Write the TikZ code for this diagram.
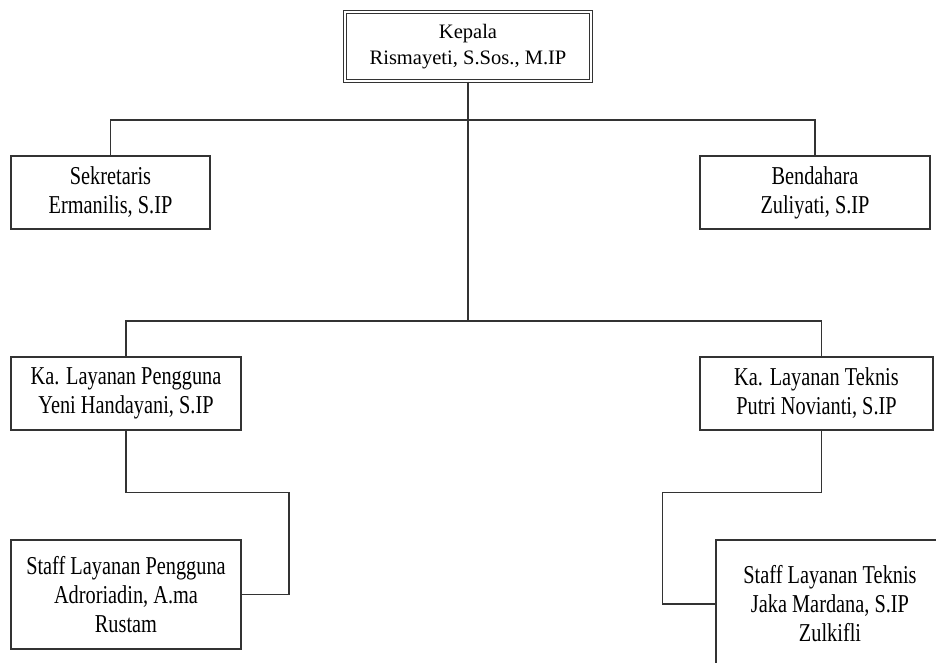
\documentclass[tikz,border=0pt]{standalone}
\usepackage{fontspec}
\setmainfont{Liberation Serif}
\newfontfamily\sempit{Liberation Serif}[FakeStretch=0.79]
\tikzset{
  jabatan/.style={draw=black!80, line width=0.8pt, fill=white, align=center, inner sep=0pt,
    font=\sempit\fontsize{19.3}{21.75}\selectfont, minimum height=54.75pt},
  garis/.style={draw=black!80, line width=0.8pt}
}
\begin{document}
\begin{tikzpicture}[x=0.75pt,y=-0.75pt]
\useasboundingbox (0,0) rectangle (936,663);
\clip (0,0) rectangle (936,663);
% struktur organisasi
\node[jabatan, double, line width=0.6pt, double distance=1.5pt, minimum width=184.8pt, minimum height=52pt,
  font=\rmfamily\fontsize{15.4}{19.5}\selectfont] (kepala) at (468,46.5) {Kepala\\Rismayeti, S.Sos., M.IP};
\node[jabatan, minimum width=149.25pt] (sekretaris) at (110.5,192.5) {Sekretaris\\Ermanilis, S.IP};
\node[jabatan, minimum width=172.5pt] (bendahara) at (815,192.5) {Bendahara\\Zuliyati, S.IP};
\node[jabatan, minimum width=172.5pt] (kapengguna) at (126,393.5) {Ka. Layanan Pengguna\\Yeni Handayani, S.IP};
\node[jabatan, minimum width=174.75pt] (kateknis) at (816.5,393.5) {Ka. Layanan Teknis\\Putri Novianti, S.IP};
\node[jabatan, minimum width=172.5pt, minimum height=81.75pt] (stpengguna) at (126,594.5) {Staff Layanan Pengguna\\Adroriadin, A.ma\\Rustam};
\node[jabatan, minimum width=171pt, minimum height=96pt] (stteknis) at (830,604) {Staff Layanan Teknis\\Jaka Mardana, S.IP\\Zulkifli};
\coordinate (cabang1) at (468,120);
\coordinate (cabang2) at (468,321);
\draw[garis, line width=1.2pt] (kepala) -- (cabang1);
\draw[garis] (cabang1) -- (cabang2);
\draw[garis] (sekretaris.north) |- (cabang1) -| (bendahara.north);
\draw[garis] (kapengguna.north) |- (cabang2) -| ([xshift=4pt]kateknis.north);
\draw[garis] (kapengguna.south) |- ++(163,62) |- (stpengguna.east);
\draw[garis] ([xshift=4pt]kateknis.south) |- ++(-159,62) |- (stteknis.west);
\end{tikzpicture}
\end{document}
